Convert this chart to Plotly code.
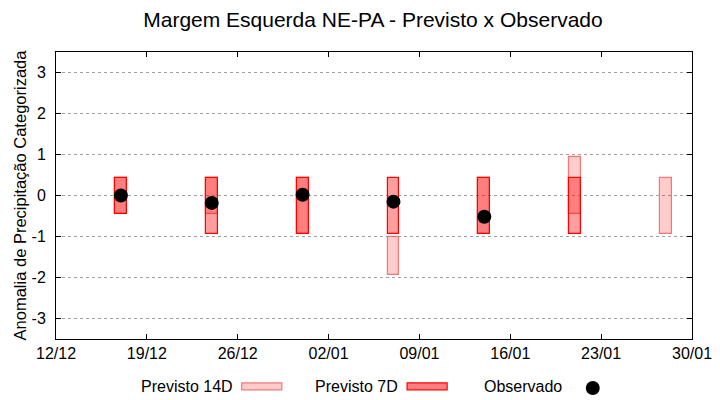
import plotly.graph_objects as go

# ---- data ----
dates = ["2021-12-17", "2021-12-24", "2021-12-31", "2022-01-07",
         "2022-01-14", "2022-01-21", "2022-01-28"]
p14_top = [0.43, 0.43, 0.43, -1.0, 0.43, 0.95, 0.43]
p14_bot = [-0.45, -0.45, -0.95, -1.95, -0.95, -0.45, -0.95]
p7_top = [0.43, 0.43, 0.43, 0.43, 0.43, 0.43, None]
p7_bot = [-0.45, -0.95, -0.95, -0.95, -0.95, -0.95, None]
obs = [0.0, -0.18, 0.02, -0.15, -0.52, None, None]

xtick_vals = ["2021-12-12", "2021-12-19", "2021-12-26", "2022-01-02",
              "2022-01-09", "2022-01-16", "2022-01-23", "2022-01-30"]
xtick_text = ["12/12", "19/12", "26/12", "02/01", "09/01", "16/01", "23/01", "30/01"]
ytick_vals = [3, 2, 1, 0, -1, -2, -3]
ytick_text = ["3", "2", "1", "0", "-1", "-2", "-3"]

title = "Margem Esquerda NE-PA - Previsto x Observado"
ytitle = "Anomalia de Precipitação Categorizada"
legend_names = ["Previsto 14D", "Previsto 7D", "Observado"]

# ---- styles ----
c14_fill = "rgba(255,0,0,0.2)"
c14_line = "rgba(240,100,100,0.85)"
c7_fill = "rgba(255,0,0,0.38)"
c7_line = "#ff0000"
font = "Liberation Sans, Arial, sans-serif"
day_ms = 86400000
bar_w = 0.92 * day_ms

def heights(top, bot):
    return [None if t is None else t - b for t, b in zip(top, bot)]

fig = go.Figure()
fig.add_trace(go.Bar(
    x=dates, y=heights(p14_top, p14_bot), base=p14_bot, width=bar_w,
    marker=dict(color=c14_fill, line=dict(color=c14_line, width=1.2)),
    name=legend_names[0], showlegend=False))
fig.add_trace(go.Bar(
    x=dates, y=heights(p7_top, p7_bot), base=p7_bot, width=bar_w,
    marker=dict(color=c7_fill, line=dict(color=c7_line, width=1.2)),
    name=legend_names[1], showlegend=False))
fig.add_trace(go.Scatter(
    x=dates, y=obs, mode="markers",
    marker=dict(color="black", size=14, symbol="circle"),
    name=legend_names[2], showlegend=False))

# ---- custom gnuplot-like legend (text then sample) ----
ly = -0.164
items = [
    (legend_names[0], 0.281, (0.292, 0.355), c14_fill, c14_line, "box"),
    (legend_names[1], 0.541, (0.552, 0.615), "rgba(255,0,0,0.5)", c7_line, "box"),
    (legend_names[2], 0.799, (0.844, 0.844), None, None, "dot"),
]
for name, tx, (x0, x1), fill, line, kind in items:
    fig.add_annotation(x=tx, y=ly, xref="paper", yref="paper", text=name,
                       showarrow=False, xanchor="right", yanchor="middle",
                       font=dict(family=font, size=16, color="black"))
    if kind == "box":
        fig.add_shape(type="rect", xref="paper", yref="paper",
                      x0=x0, x1=x1, y0=ly - 0.013, y1=ly + 0.011,
                      fillcolor=fill, line=dict(color=line, width=1.2))
    else:
        fig.add_shape(type="circle", xref="paper", yref="paper",
                      x0=x0 - 0.011, x1=x0 + 0.011, y0=ly - 0.031, y1=ly + 0.018,
                      fillcolor="black", line=dict(color="black", width=0))

fig.update_layout(
    width=720, height=400,
    margin=dict(l=56, r=28, t=52, b=61, autoexpand=False),
    plot_bgcolor="white", paper_bgcolor="white",
    barmode="overlay", bargap=0,
    title=dict(text=title, x=0.518, xanchor="center", y=0.95, yanchor="middle",
               font=dict(family=font, size=21, color="black")),
    font=dict(family=font, size=16, color="black"),
)
fig.update_xaxes(
    type="date", range=["2021-12-12", "2022-01-30"],
    tickvals=xtick_vals, ticktext=xtick_text, automargin=False,
    ticks="inside", ticklen=5, tickcolor="black", mirror="ticks",
    showline=True, linecolor="black", linewidth=1, showgrid=False,
    tickfont=dict(family=font, size=16), zeroline=False)
fig.update_yaxes(
    range=[-3.5, 3.5], tickvals=ytick_vals, ticktext=ytick_text,
    automargin=False, ticklabelstandoff=6,
    ticks="inside", ticklen=5, tickcolor="black", mirror="ticks",
    showline=True, linecolor="black", linewidth=1,
    showgrid=True, gridcolor="#a0a0a0", griddash="dot", gridwidth=1,
    zeroline=False, tickfont=dict(family=font, size=16),
    title=dict(text=ytitle, font=dict(family=font, size=16.5), standoff=0))

fig.write_html("out.html", config={"displayModeBar": False},
               post_script="document.body.style.margin='0';")
